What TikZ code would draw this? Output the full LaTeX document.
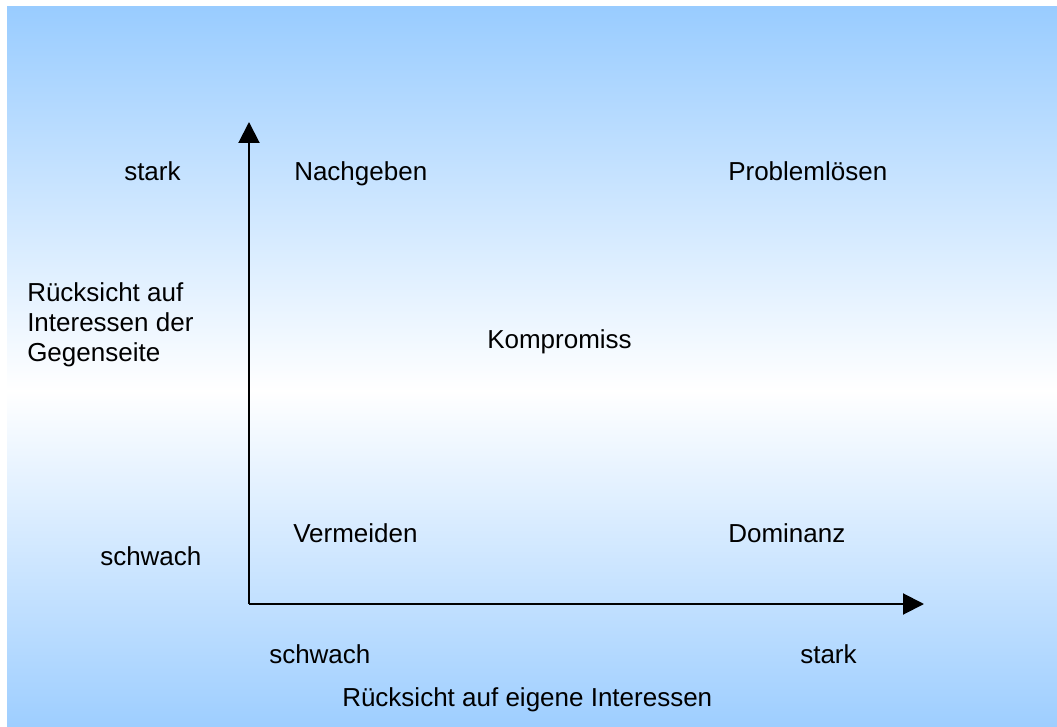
\documentclass[tikz,border=0pt]{standalone}
\usepackage{fontspec}
\setmainfont{Liberation Sans}
\usetikzlibrary{arrows.meta}
\definecolor{skytop}{RGB}{153,204,255}
\definecolor{skybot}{RGB}{158,206,255}
\tikzset{
  lbl/.style={anchor=base west, inner sep=0pt, font=\fontsize{19.5}{22.5}\selectfont},
  axis/.style={line width=1.5pt, -{Triangle[length=15.75pt,width=15.75pt]}}
}

\begin{document}
\begin{tikzpicture}[x=0.75pt,y=0.75pt]
  \useasboundingbox (0,0) rectangle (1057,726);
  \shade[top color=skytop, bottom color=white] (7,335) rectangle (1057,719);
  \shade[top color=white, bottom color=skybot] (7,0) rectangle (1057,336);

  \coordinate (O) at (249,122);
  \coordinate (ytip) at (249,604);
  \coordinate (xtip) at (924,122);
  \draw[axis] (O)--(ytip);
  \draw[axis] (O)--(xtip);

  \node[lbl] (ystark) at (124,545) {stark};
  \node[lbl] (yschwach) at (100,161) {schwach};
  \node[lbl, align=left] (ytitle) at (27,364) {Rücksicht auf\\Interessen der\\Gegenseite};

  \node[lbl] (xschwach) at (269,63) {schwach};
  \node[lbl] (xstark) at (800,63) {stark};
  \node[lbl] (xtitle) at (342,20) {Rücksicht auf eigene Interessen};

  \node[lbl] (nachgeben) at (294,545) {Nachgeben};
  \node[lbl] (problem) at (728,545) {Problemlösen};
  \node[lbl] (kompromiss) at (487,378) {Kompromiss};
  \node[lbl] (vermeiden) at (293,184) {Vermeiden};
  \node[lbl] (dominanz) at (728,184) {Dominanz};
\end{tikzpicture}
\end{document}
